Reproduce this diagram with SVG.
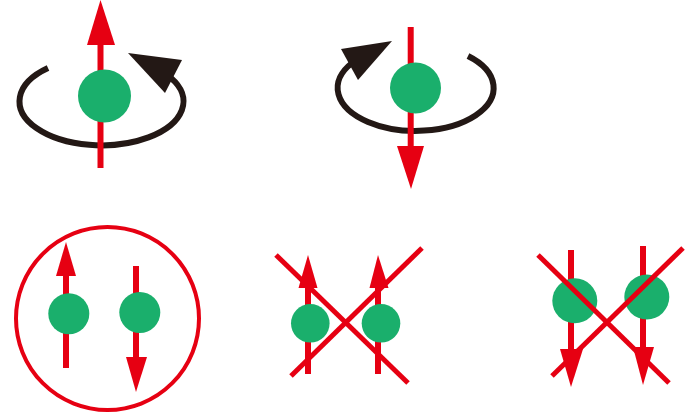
<svg xmlns="http://www.w3.org/2000/svg" width="697" height="413" viewBox="0 0 697 413">
  <style>
    .orbit { fill: none; stroke: #231815; stroke-width: 6; }
    .orbit-head { fill: #231815; }
    .shaft { stroke: #E60012; stroke-width: 6; fill: none; }
    .head { fill: #E60012; }
    .cross { stroke: #E60012; stroke-width: 5; fill: none; }
    .ring { stroke: #E60012; stroke-width: 4; fill: none; }
    .particle { fill: #1AAF6C; }
  </style>

  <!-- spin up, counter-clockwise rotation -->
  <g id="spin-up">
    <path class="orbit" d="M 48 68 A 82 44 0 1 0 171 78"/>
    <polygon class="orbit-head" points="128,53 182,60 165,93"/>
    <line class="shaft" x1="100.5" y1="40" x2="100.5" y2="168"/>
    <polygon class="head" points="100.5,0 115,45 87,45"/>
    <circle class="particle" cx="104.5" cy="96" r="26.5"/>
  </g>

  <!-- spin down, clockwise rotation -->
  <g id="spin-down">
    <path class="orbit" d="M 468 56 A 78 43 0 1 1 352 63"/>
    <polygon class="orbit-head" points="392,41 341,49 358,80"/>
    <line class="shaft" x1="410.7" y1="27" x2="410.7" y2="150"/>
    <polygon class="head" points="397,146 424,146 411,189"/>
    <circle class="particle" cx="415.5" cy="88" r="25.5"/>
  </g>

  <!-- antiparallel pair inside a ring -->
  <g id="pair-antiparallel">
    <circle class="ring" cx="107.5" cy="318.5" r="91.5"/>
    <line class="shaft" x1="66" y1="272" x2="66" y2="368"/>
    <polygon class="head" points="66,242 76,276 56,276"/>
    <circle class="particle" cx="68.8" cy="313.7" r="20.5"/>
    <line class="shaft" x1="136" y1="266" x2="136" y2="360"/>
    <polygon class="head" points="126,357 147,357 136,392"/>
    <circle class="particle" cx="139.8" cy="312.5" r="20.5"/>
  </g>

  <!-- parallel pair, both up, crossed out -->
  <g id="pair-up-up">
    <line class="shaft" x1="308" y1="283" x2="308" y2="374"/>
    <polygon class="head" points="308,255 317.5,288 298.5,288"/>
    <circle class="particle" cx="310.3" cy="323.3" r="19.3"/>
    <line class="shaft" x1="378" y1="283" x2="378" y2="374"/>
    <polygon class="head" points="378,255 388.5,288 369.5,288"/>
    <circle class="particle" cx="381" cy="323.3" r="19.3"/>
    <line class="cross" x1="276" y1="255" x2="408" y2="383"/>
    <line class="cross" x1="291" y1="376" x2="422" y2="248"/>
  </g>

  <!-- parallel pair, both down, crossed out -->
  <g id="pair-down-down">
    <line class="shaft" x1="571" y1="250" x2="571" y2="352"/>
    <polygon class="head" points="560,349 583,349 571,387"/>
    <circle class="particle" cx="574.8" cy="300.8" r="22.5"/>
    <line class="shaft" x1="643" y1="246" x2="643" y2="350"/>
    <polygon class="head" points="633,347 654,347 643,385"/>
    <circle class="particle" cx="646.8" cy="297" r="22.5"/>
    <line class="cross" x1="538" y1="255" x2="669" y2="383"/>
    <line class="cross" x1="552" y1="376" x2="683" y2="248"/>
  </g>
</svg>
